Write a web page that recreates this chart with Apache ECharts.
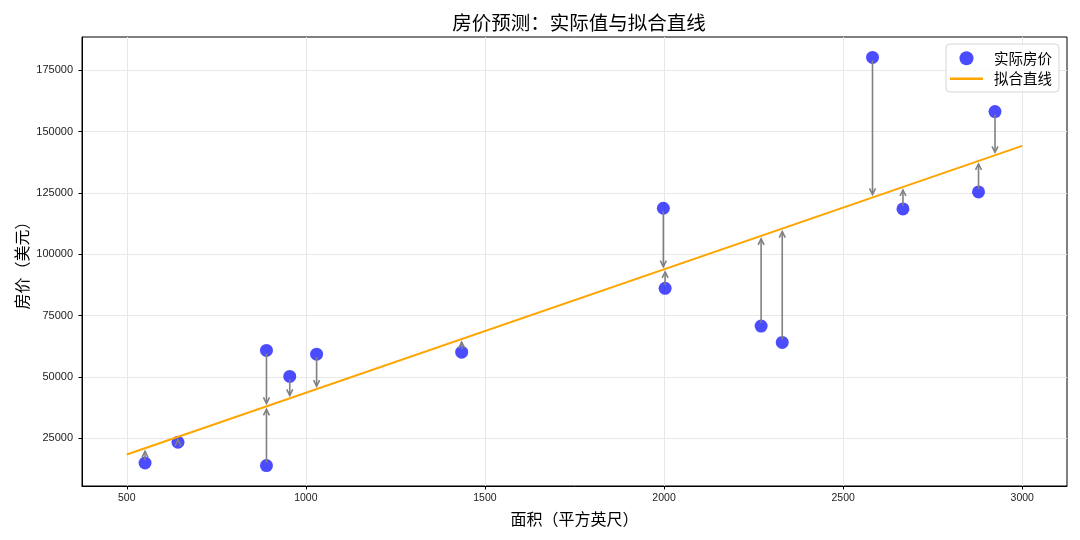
<!DOCTYPE html>
<html>
<head>
<meta charset="utf-8">
<script src="https://cdn.jsdelivr.net/npm/echarts@6/dist/echarts.min.js"></script>
<style>
html,body{margin:0;padding:0;background:#fff;}
#chart{width:1080px;height:540px;}
</style>
</head>
<body>
<div id="chart"></div>
<script>
// ---- data ----
const areaSqft      = [551, 643, 890, 890, 955, 1030, 1435, 2003, 2271, 2330, 1998, 2582, 2667, 2878, 2924];
const actualPrice   = [14930, 23380, 60790, 13870, 50180, 59280, 60090, 86080, 70700, 64050, 118720, 180160, 118430, 125370, 158130];
const predictedPrice= [20930, 25560, 37980, 37980, 41250, 45020, 65400, 93980, 107460, 110430, 93720, 123110, 127380, 138000, 140310];
const fitLineX      = [500, 3000];
const fitLineY      = [18360, 144130];
const xTickValues   = [500, 1000, 1500, 2000, 2500, 3000];
const yTickValues   = [25000, 50000, 75000, 100000, 125000, 150000, 175000];

const titleText = '房价预测：实际值与拟合直线';
const xName = '面积（平方英尺）';
const yName = '房价（美元）';
const scatterName = '实际房价';
const lineName = '拟合直线';

const scatterData = areaSqft.map((x, i) => [x, actualPrice[i]]);
const arrowData = areaSqft.map((x, i) => [x, actualPrice[i], predictedPrice[i]]);
const lineData = fitLineX.map((x, i) => [x, fitLineY[i]]);

const cjk = '"Noto Sans CJK SC", "Noto Sans", sans-serif';
const num = '"Liberation Sans", Arial, sans-serif';

const chart = echarts.init(document.getElementById('chart'), null, {renderer: 'canvas'});

chart.setOption({
  backgroundColor: '#ffffff',
  animation: false,
  title: {
    text: titleText,
    left: 574, top: 8,
    textAlign: 'center',
    textStyle: {fontFamily: cjk, fontSize: 19.5, fontWeight: 'normal', color: '#000'}
  },
  legend: {
    data: [
      {name: scatterName, icon: 'circle'},
      {name: lineName, icon: 'path://M0,0 L33,0 L33,2.6 L0,2.6 Z'}
    ],
    orient: 'vertical',
    right: 21, top: 44,
    itemWidth: 33, itemHeight: 14, itemGap: 6,
    padding: [7, 7, 6, 4],
    borderColor: '#d6d6d6', borderWidth: 1, borderRadius: 4,
    backgroundColor: 'rgba(255,255,255,0.8)',
    textStyle: {fontFamily: cjk, fontSize: 14.5, color: '#000', padding: [0, 0, 0, 6]}
  },
  grid: {
    left: 82, right: 13, top: 37, bottom: 54,
    show: true, borderColor: '#000', borderWidth: 1, backgroundColor: 'transparent'
  },
  xAxis: {
    type: 'value',
    min: 375, max: 3125,
    name: xName, nameLocation: 'middle', nameGap: 25,
    nameTextStyle: {fontFamily: cjk, fontSize: 16, color: '#000'},
    axisLine: {show: true, lineStyle: {color: '#000', width: 1}},
    axisTick: {show: true, inside: false, length: 3.5, customValues: xTickValues, lineStyle: {color: '#000'}},
    axisLabel: {customValues: xTickValues, margin: 7, fontFamily: num, fontSize: 10.5, color: '#222',
      formatter: v => String(Math.round(v))},
    splitLine: {show: true, lineStyle: {color: '#e8e8e8', width: 1}}
  },
  yAxis: {
    type: 'value',
    min: 5550, max: 188500,
    name: yName, nameLocation: 'middle', nameGap: 52, nameMoveOverlap: false,
    nameTextStyle: {fontFamily: cjk, fontSize: 16, color: '#000'},
    axisLine: {show: true, lineStyle: {color: '#000', width: 1}},
    axisTick: {show: true, inside: false, length: 3.5, customValues: yTickValues, lineStyle: {color: '#000'}},
    axisLabel: {customValues: yTickValues, margin: 9, fontFamily: num, fontSize: 11, color: '#222',
      formatter: v => String(Math.round(v))},
    splitLine: {show: true, lineStyle: {color: '#e8e8e8', width: 1}}
  },
  series: [
    {
      name: scatterName,
      type: 'scatter',
      data: scatterData,
      symbol: 'circle',
      symbolSize: 13,
      itemStyle: {color: '#0000ff', opacity: 0.7},
      z: 2
    },
    {
      name: lineName,
      type: 'line',
      data: lineData,
      symbol: 'none',
      lineStyle: {color: '#FFA500', width: 2},
      itemStyle: {color: '#FFA500'},
      z: 3
    },
    {
      name: 'arrows',
      type: 'custom',
      data: arrowData,
      z: 4,
      silent: true,
      renderItem: function (params, api) {
        const x = api.value(0);
        const p0 = api.coord([x, api.value(1)]);
        const p1 = api.coord([x, api.value(2)]);
        const dir = p1[1] > p0[1] ? 1 : -1;
        const sy = p0[1] + dir * 3;
        const ty = p1[1] - dir * 3;
        const hl = 6, hw = 3;
        const style = {stroke: '#808080', lineWidth: 1.6, fill: null};
        return {
          type: 'group',
          children: [
            {type: 'line', shape: {x1: p0[0], y1: sy, x2: p0[0], y2: ty}, style: style},
            {type: 'polyline', shape: {points: [[p0[0] - hw, ty - dir * hl], [p0[0], ty], [p0[0] + hw, ty - dir * hl]]}, style: style}
          ]
        };
      }
    }
  ]
});
</script>
</body>
</html>
